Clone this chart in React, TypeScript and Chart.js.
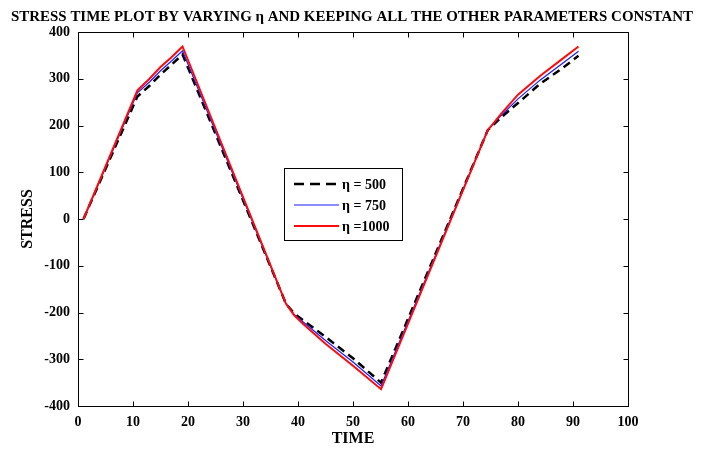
import { useEffect, useRef } from "react";
import { Chart, registerables } from "chart.js";

Chart.register(...registerables);

// ---- data ----
const timeValues = [1, 10.8, 13, 15, 17, 19, 37.8, 39.3, 41, 45, 50, 55.1, 74.5, 77, 80, 84, 88, 91];
const stressEta500 = [0, 262, 285, 309, 330, 352, -181, -202, -217, -252, -298, -350, 190, 218, 248, 289, 322, 349];
const stressEta750 = [0, 270, 293, 317, 338, 360, -181, -204, -221, -260, -306, -357, 190, 222, 257, 297, 332, 359];
const stressEta1000 = [0, 275, 300, 325, 346, 369, -181, -206, -225, -267, -314, -364, 190, 226, 266, 306, 342, 369];

const seriesLabels = ["\u03b7 = 500", "\u03b7 = 750", "\u03b7 =1000"];
const seriesColors = ["#000000", "#1a1aff", "#ff0a0a"];
const chartTitle = "STRESS TIME PLOT BY VARYING \u03b7 AND KEEPING ALL THE OTHER PARAMETERS CONSTANT";
const xAxisTitle = "TIME";
const yAxisTitle = "STRESS";
const xMin = 0, xMax = 100, xStep = 10;
const yMin = -400, yMax = 400, yStep = 100;

const FONT = '"Liberation Serif", "Times New Roman", serif';

const toPoints = (ys: number[]) => timeValues.map((t, i) => ({ x: t, y: ys[i] }));

const framePlugin = {
  id: "matlabFrame",
  afterDraw(chart: any) {
    const { ctx, chartArea: a, scales } = chart;
    const xs = scales.x;
    const ys = scales.y;
    ctx.save();
    ctx.strokeStyle = "#000";
    ctx.lineWidth = 1;
    ctx.setLineDash([]);
    const L = Math.round(a.left) + 0.5;
    const R = Math.round(a.right) + 0.5;
    const T = Math.round(a.top) + 0.5;
    const B = Math.round(a.bottom) + 0.5;
    ctx.strokeRect(L, T, R - L, B - T);
    const tl = 5;
    ctx.beginPath();
    xs.ticks.forEach((t: any) => {
      const px = Math.round(xs.getPixelForValue(t.value)) + 0.5;
      ctx.moveTo(px, B); ctx.lineTo(px, B - tl);
      ctx.moveTo(px, T); ctx.lineTo(px, T + tl);
    });
    ys.ticks.forEach((t: any) => {
      const py = Math.round(ys.getPixelForValue(t.value)) + 0.5;
      ctx.moveTo(L, py); ctx.lineTo(L + tl, py);
      ctx.moveTo(R, py); ctx.lineTo(R - tl, py);
    });
    ctx.stroke();

    // title (compressed to the reference width)
    ctx.fillStyle = "#000";
    ctx.font = `bold 15px ${FONT}`;
    const w = ctx.measureText(chartTitle).width;
    const target = 682;
    ctx.save();
    ctx.translate(352, 21);
    ctx.scale(target / w, 1);
    ctx.textAlign = "center";
    ctx.textBaseline = "alphabetic";
    ctx.fillText(chartTitle, 0, 0);
    ctx.restore();

    // axis titles
    ctx.font = `bold 16px ${FONT}`;
    ctx.textAlign = "center";
    ctx.textBaseline = "middle";
    ctx.fillText(xAxisTitle, (a.left + a.right) / 2, 439);
    ctx.save();
    ctx.translate(28, (a.top + a.bottom) / 2);
    ctx.rotate(-Math.PI / 2);
    ctx.fillText(yAxisTitle, 0, 0);
    ctx.restore();

    // legend box
    const bx = 284.5, by = 168.5, bw = 118, bh = 72;
    ctx.fillStyle = "#fff";
    ctx.fillRect(bx, by, bw, bh);
    ctx.strokeStyle = "#000";
    ctx.lineWidth = 1;
    ctx.strokeRect(bx, by, bw, bh);
    const rows = [184, 205, 226];
    const widths = [2.5, 1.2, 2];
    const dashes = [[10, 6], [], []];
    ctx.font = `bold 14px ${FONT}`;
    ctx.textAlign = "left";
    ctx.textBaseline = "middle";
    rows.forEach((ry, i) => {
      ctx.beginPath();
      ctx.strokeStyle = seriesColors[i];
      ctx.lineWidth = widths[i];
      ctx.setLineDash(dashes[i]);
      ctx.moveTo(294, ry);
      ctx.lineTo(339, ry);
      ctx.stroke();
      ctx.setLineDash([]);
      ctx.fillStyle = "#000";
      ctx.fillText(seriesLabels[i], 342, ry + 1);
    });
    ctx.restore();
  },
};

export default function App() {
  const canvasRef = useRef<HTMLCanvasElement | null>(null);

  useEffect(() => {
    if (!canvasRef.current) return;
    const tickFont = { family: FONT, size: 14, weight: "bold" as const };
    const chart = new Chart(canvasRef.current, {
      type: "line",
      data: {
        datasets: [
          {
            label: seriesLabels[0],
            data: toPoints(stressEta500),
            borderColor: seriesColors[0],
            borderWidth: 2.5,
            borderDash: [8, 5],
            pointRadius: 0,
            fill: false,
            order: 2,
          },
          {
            label: seriesLabels[1],
            data: toPoints(stressEta750),
            borderColor: seriesColors[1],
            borderWidth: 1.2,
            pointRadius: 0,
            fill: false,
            order: 1,
          },
          {
            label: seriesLabels[2],
            data: toPoints(stressEta1000),
            borderColor: seriesColors[2],
            borderWidth: 2,
            pointRadius: 0,
            fill: false,
            order: 0,
          },
        ],
      },
      options: {
        responsive: false,
        animation: false,
        devicePixelRatio: 1,
        parsing: false as any,
        layout: { padding: { top: 32, right: 79, left: 0, bottom: 0 } },
        elements: { line: { tension: 0 } },
        plugins: {
          legend: { display: false },
          tooltip: { enabled: false },
          title: { display: false },
        },
        scales: {
          x: {
            type: "linear",
            min: xMin,
            max: xMax,
            grid: { display: false },
            border: { display: false },
            ticks: { stepSize: xStep, color: "#000", font: tickFont, padding: 0, maxRotation: 0, autoSkip: false },
            afterFit: (s: any) => { s.height = 44; },
          },
          y: {
            type: "linear",
            min: yMin,
            max: yMax,
            grid: { display: false },
            border: { display: false },
            ticks: { stepSize: yStep, color: "#000", font: tickFont, padding: 0, autoSkip: false },
            afterFit: (s: any) => { s.width = 78; },
          },
        },
      },
      plugins: [framePlugin],
    });
    return () => chart.destroy();
  }, []);

  return (
    <div style={{ position: "absolute", left: 0, top: 0, width: 707, height: 450, background: "#fff" }}>
      <canvas ref={canvasRef} width={707} height={450} style={{ display: "block", width: 707, height: 450 }} />
    </div>
  );
}
